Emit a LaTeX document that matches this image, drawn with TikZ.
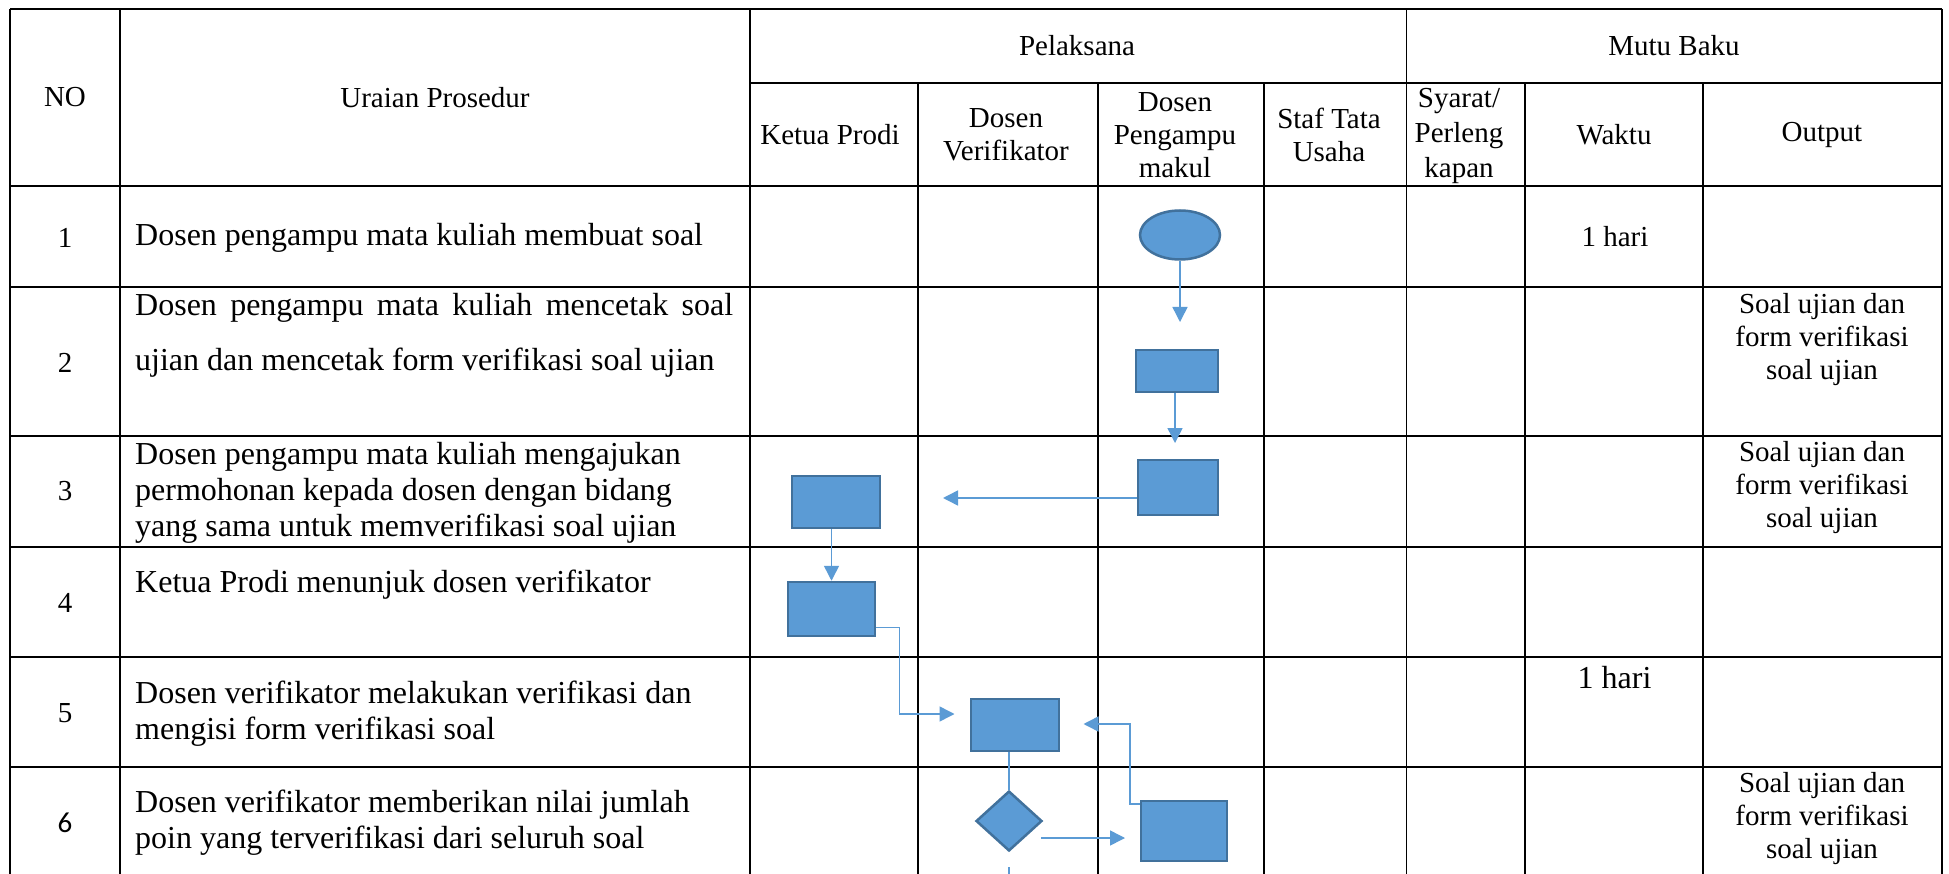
\documentclass[tikz,border=0pt]{standalone}
\usepackage{fontspec}
\setmainfont{Liberation Serif}
\newfontfamily\calfont{Carlito}
\usetikzlibrary{arrows.meta,shapes.geometric,calc}
\definecolor{fillblue}{HTML}{5B9BD5}
\definecolor{edgeblue}{HTML}{41719C}
\tikzset{
  grid/.style={line width=1.6pt, draw=black},
  hd/.style={font=\fontsize{29}{33}\selectfont, align=center, inner sep=0pt},
  txt/.style={font=\fontsize{32}{36}\selectfont, align=left, anchor=west, inner sep=0pt},
  num/.style={font=\fontsize{29}{33}\selectfont, inner sep=0pt},
  outp/.style={font=\fontsize{29}{33}\selectfont, align=center, inner sep=0pt},
  box/.style={rectangle, draw=edgeblue, fill=fillblue, line width=2.5pt, inner sep=0pt},
  oval/.style={ellipse, draw=edgeblue, fill=fillblue, line width=2.5pt, inner sep=0pt},
  dia/.style={diamond, draw=edgeblue, fill=fillblue, line width=2.5pt, inner sep=0pt},
  arr/.style={draw=fillblue, line width=1.5pt, -{Triangle[length=15pt,width=15pt]}},
  conn/.style={draw=fillblue, line width=1.5pt}
}
\begin{document}
\begin{tikzpicture}[x=1pt,y=-1pt]
\useasboundingbox (0,0) rectangle (1949,874);
\fill[white] (0,0) rectangle (1949,874);

% ---- table grid ----
\draw[grid] (10,9) -- (1942,9);
\draw[grid] (750,83) -- (1942,83);
\foreach \yy in {186,287,436,547,657,767}{
  \draw[grid] (10,\yy) -- (1942,\yy);
}
\foreach \xx in {10,120,750,1406.5,1942}{
  \draw[grid] (\xx,9) -- (\xx,874);
}
\foreach \xx in {918,1098,1264,1525,1703}{
  \draw[grid] (\xx,83) -- (\xx,874);
}

% ---- header ----
\node[hd] (hNO) at (65,97.5) {NO};
\node[hd] (hUP) at (435,97.5) {Uraian Prosedur};
\node[hd] (hPel) at (1077,46) {Pelaksana};
\node[hd] (hMB) at (1674,46) {Mutu Baku};
\node[hd] (hKP) at (830,135) {Ketua Prodi};
\node[hd] (hDV) at (1006,135) {Dosen\\Verifikator};
\node[hd] (hDP) at (1175,135) {Dosen\\Pengampu\\makul};
\node[hd] (hST) at (1329,135) {Staf Tata\\Usaha};
\node[hd, font=\fontsize{29}{35}\selectfont] (hSY) at (1459,135.5) {Syarat/\\Perleng\\kapan};
\node[hd] (hWK) at (1614,135) {Waktu};
\node[hd] (hOP) at (1822,135) {Output};

% ---- row numbers ----
\node[num] (n1) at (65,238) {1};
\node[num] (n2) at (65,363) {2};
\node[num] (n3) at (65,491.5) {3};
\node[num] (n4) at (65,603) {4};
\node[num] (n5) at (65,713) {5};
\node[num, font=\calfont\fontsize{29}{33}\selectfont] (n6) at (65,823) {6};

% ---- procedure texts ----
\node[txt] (t1) at (135,238) {Dosen pengampu mata kuliah membuat soal};
\node[txt, font=\fontsize{32}{55}\selectfont] (t2) at (135,335.5)
  {\makebox[598pt][s]{Dosen pengampu mata kuliah mencetak soal}\\ujian dan mencetak form verifikasi soal ujian};
\node[txt] (t3) at (135,492.5) {Dosen pengampu mata kuliah mengajukan\\permohonan kepada dosen dengan bidang\\yang sama untuk memverifikasi soal ujian};
\node[txt] (t4) at (135,585) {Ketua Prodi menunjuk dosen verifikator};
\node[txt] (t5) at (135,713.5) {Dosen verifikator melakukan verifikasi dan\\mengisi form verifikasi soal};
\node[txt] (t6) at (135,822.5) {Dosen verifikator memberikan nilai jumlah\\poin yang terverifikasi dari seluruh soal};

% ---- mutu baku ----
\node[outp] (w1) at (1615,237) {1 hari};
\node[outp, font=\fontsize{32}{36}\selectfont] (w5) at (1614.5,678) {1 hari};
\node[outp] (o2) at (1822,339.5) {Soal ujian dan\\form verifikasi\\soal ujian};
\node[outp] (o3) at (1822,487.5) {Soal ujian dan\\form verifikasi\\soal ujian};
\node[outp] (o6) at (1822,818.5) {Soal ujian dan\\form verifikasi\\soal ujian};

% ---- flow shapes ----
\node[oval, minimum width=80pt, minimum height=49pt] (e1) at (1180,235) {};
\node[box, minimum width=82pt, minimum height=42pt] (r2) at (1177,371) {};
\node[box, minimum width=80pt, minimum height=55pt] (r3) at (1178,487.5) {};
\node[box, minimum width=88pt, minimum height=52pt] (k3) at (836,502) {};
\node[box, minimum width=87pt, minimum height=54pt] (k4) at (831.5,609) {};
\node[box, minimum width=88pt, minimum height=52pt] (v5) at (1015,725) {};
\node[dia, minimum width=66pt, minimum height=60pt] (d6) at (1009,821) {};
\node[box, minimum width=86pt, minimum height=60pt] (r6) at (1184,831) {};

% ---- free ends ----
\coordinate (a1) at (1180,322);
\coordinate (a2) at (1175,443);
\coordinate (a3) at (943,498);
\coordinate (a5) at (954.5,714);
\coordinate (a7) at (1125,838);
\coordinate (a8) at (1083.5,724);
\coordinate (s9) at (1009,867);
\coordinate (s9e) at (1009,874);

% ---- connectors ----
\draw[arr] (e1.south) -- (a1);
\draw[arr] (r2.south -| a2) -- (a2);
\draw[arr] (r3.west |- a3) -- (a3);
\draw[arr] (k4.north |- k3.south) -- (k4.north);
\draw[arr] ($(k4.south east)+(0,-10)$) -- ++(23,0) |- (a5);
\draw[conn] (d6.north |- v5.south) -- (d6.north);
\draw[arr] ($(d6.east |- a7)+(-2,0)$) -- (a7);
\draw[arr] ($(r6.north west)+(0,4)$) -- ++(-10,0) |- (a8);
\draw[conn] (s9) -- (s9e);
\end{tikzpicture}
\end{document}
